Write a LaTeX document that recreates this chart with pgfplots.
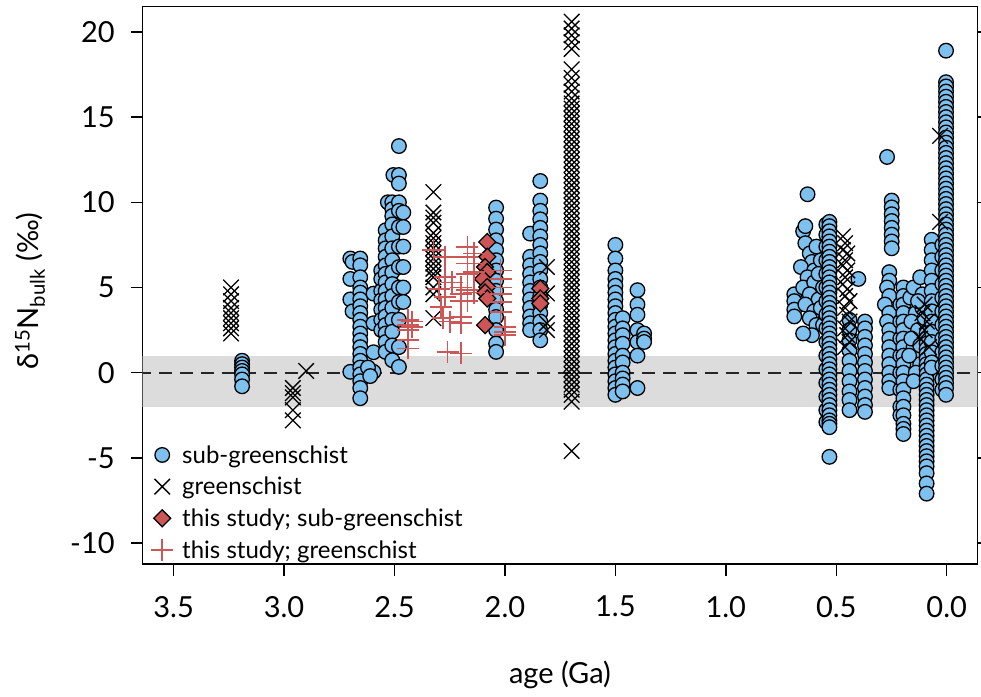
\documentclass[border=0pt]{standalone}
\usepackage{pgfplots}
\pgfplotsset{compat=1.18}
\usepackage{fontspec}
\setmainfont{Lato}
\definecolor{skyb}{RGB}{126,192,238}
\definecolor{dred}{RGB}{205,85,85}
\definecolor{pred}{RGB}{205,86,86}
\definecolor{band}{RGB}{220,220,220}
\begin{document}
\begin{tikzpicture}
\begin{axis}[
  name=ax, at={(0,0)}, anchor=south west,
  scale only axis, width=834.6pt, height=557.3pt,
  xmin=-0.1385, xmax=3.64, ymin=-11.23, ymax=21.48,
  x dir=reverse,
  xtick={0,0.5,1,1.5,2,2.5,3,3.5},
  xticklabels={0.0,0.5,1.0,1.5,2.0,2.5,3.0,3.5},
  ytick={-10,-5,0,5,10,15,20},
  yticklabels={-10,-5,0,5,10,15,20},
  tick align=outside, major tick length=11.5pt,
  xtick pos=bottom, ytick pos=both,
  axis line style={line width=1.6pt},
  every tick/.style={black, line width=1.5pt},
  tick label style={font=\fontsize{29}{35}\selectfont},
  xticklabel style={yshift=-17pt},
  yticklabel style={xshift=-13pt},
  label style={font=\fontsize{29}{35}\selectfont},
  xlabel={age (Ga)},
  ylabel={δ\textsuperscript{15}N\textsubscript{bulk} (‰)},
  xlabel style={at={(axis description cs:0.5,0)}, anchor=center, yshift=-111pt},
  ylabel style={at={(axis description cs:-0.135,0.49)}, anchor=center},
  clip=true,
  legend cell align=left,
  legend style={draw=none, fill=none, at={(0.01,0.004)}, anchor=south west,
    font=\fontsize{24}{28}\selectfont, row sep=8.5pt, inner sep=0pt},
  legend image code/.code={\path[draw=none,fill=none] (0pt,-5pt) rectangle (27pt,5pt); \draw[#1] plot coordinates {(9pt,0pt)};},
]
\addplot[draw=none, fill=band, forget plot] coordinates {(-0.2,-2) (3.7,-2) (3.7,1) (-0.2,1)} -- cycle;
\addplot[black!85, line width=1.8pt, dash pattern=on 13pt off 8pt, forget plot] coordinates {(-0.2,0) (3.7,0)};

% sub-greenschist
\addplot[only marks, mark=*, mark size=7.3pt, mark options={fill=skyb, draw=black, line width=1.3pt}] coordinates {
(3.19,0.7)(3.19,0.5)(3.19,0.3)(3.19,0.1)(3.19,-0.1)(3.19,-0.4)(3.19,-0.8)
(2.70,6.7)(2.70,5.5)(2.70,4.3)(2.70,0.05)(2.69,6.5)(2.69,3.6)
(2.655,6.7)(2.655,6.3)(2.655,5.6)(2.655,5.0)(2.655,4.7)(2.655,4.3)(2.655,3.9)(2.655,3.5)(2.655,3.1)(2.655,2.7)(2.655,2.3)(2.655,1.9)(2.655,1.5)(2.655,1.1)(2.655,0.7)(2.655,0.3)(2.655,-0.1)(2.655,-0.5)(2.655,-0.9)(2.655,-1.5)
(2.595,4.64)(2.595,2.9)(2.595,1.2)(2.595,0.05)(2.62,0.3)(2.61,-0.2)
(2.56,6.0)(2.56,5.5)(2.56,4.8)(2.56,4.25)(2.56,3.7)(2.56,3.1)(2.56,2.5)
(2.54,8.36)(2.54,7.77)(2.54,7.3)(2.54,6.8)(2.54,6.3)(2.54,5.8)(2.54,5.3)(2.54,4.8)(2.54,4.3)(2.54,3.8)(2.54,3.3)(2.54,2.8)(2.54,2.3)(2.54,1.8)(2.54,1.22)
(2.53,10.0)(2.51,10.0)(2.51,9.6)(2.51,9.2)(2.51,8.7)(2.51,8.0)(2.51,7.3)(2.51,6.6)(2.51,5.9)(2.51,5.2)(2.51,4.5)(2.51,3.8)(2.51,3.1)(2.51,2.4)(2.51,1.6)(2.51,0.73)
(2.505,11.6)
(2.48,13.3)(2.48,11.6)(2.48,11.1)(2.48,10.0)(2.48,9.5)(2.48,8.55)(2.48,7.4)(2.48,6.2)(2.48,5.0)(2.48,4.15)(2.48,3.1)(2.48,1.5)(2.48,0.34)
(2.46,9.4)(2.46,8.55)(2.46,7.4)(2.46,6.2)(2.46,5.0)(2.46,4.15)
(2.04,9.69)(2.04,9.04)(2.04,8.4)(2.04,7.77)(2.04,7.2)(2.04,6.6)(2.04,6.0)(2.04,5.4)(2.04,4.8)(2.04,4.2)(2.04,3.7)(2.04,3.27)(2.04,2.5)(2.04,1.71)(2.04,1.22)
(1.886,8.16)(1.886,6.8)(1.886,6.3)(1.886,5.8)(1.886,5.3)(1.886,4.8)(1.886,4.3)(1.886,3.8)(1.886,3.3)(1.886,2.9)(1.886,2.5)
(1.84,11.25)(1.84,10.1)(1.84,9.5)(1.84,9.0)(1.84,8.5)(1.84,8.0)(1.84,7.5)(1.84,7.0)(1.84,6.5)(1.84,6.0)(1.84,5.5)(1.84,5.0)(1.84,4.5)(1.84,4.0)(1.84,3.5)(1.84,3.0)(1.84,2.5)(1.84,1.9)
(1.50,7.5)(1.50,6.7)(1.50,6.0)(1.50,5.5)(1.50,5.1)(1.50,4.7)(1.50,4.3)(1.50,3.9)(1.50,3.5)(1.50,3.1)(1.50,2.7)(1.50,2.3)(1.50,1.9)(1.50,1.5)(1.50,1.1)(1.50,0.7)(1.50,0.3)(1.50,-0.1)(1.50,-0.5)(1.50,-0.9)(1.50,-1.3)
(1.467,3.2)(1.467,2.6)(1.467,2.2)(1.467,1.7)(1.467,1.0)(1.467,0.6)(1.467,0.0)(1.467,-0.34)(1.467,-0.7)(1.467,-1.1)
(1.40,4.84)(1.40,4.0)(1.40,3.4)(1.40,2.5)(1.40,1.8)(1.40,1.0)(1.40,-0.9)
(1.37,2.3)(1.37,2.0)(1.37,1.8)
(0.69,4.6)(0.69,4.2)(0.69,3.7)(0.69,3.3)
(0.63,10.47)(0.65,8.3)(0.64,8.6)(0.64,7.6)(0.62,7.0)(0.61,6.5)(0.66,6.2)(0.60,6.0)(0.63,5.6)(0.65,5.0)(0.60,5.3)(0.62,4.6)(0.58,4.3)(0.64,4.0)(0.60,3.6)(0.62,3.2)(0.59,2.8)(0.61,2.2)(0.57,6.6)(0.58,5.8)(0.56,5.0)(0.57,3.8)(0.56,2.8)(0.65,2.3)(0.59,7.4)
(0.545,8.7)(0.545,8.1)(0.545,7.4)(0.545,6.6)(0.545,5.8)(0.545,5.0)(0.545,4.2)(0.545,3.4)(0.545,2.6)(0.545,1.8)(0.545,1.0)(0.545,0.2)(0.545,-0.6)(0.545,-1.4)(0.545,-2.2)(0.545,-2.9)
(0.531,8.85)(0.531,8.6)(0.531,8.3)(0.531,8.0)(0.531,7.7)(0.531,7.4)(0.531,7.1)(0.531,6.8)(0.531,6.5)(0.531,6.2)(0.531,5.9)(0.531,5.6)(0.531,5.3)(0.531,5.0)(0.531,4.7)(0.531,4.4)(0.531,4.1)(0.531,3.8)(0.531,3.5)(0.531,3.2)(0.531,2.9)(0.531,2.6)(0.531,2.3)(0.531,2.0)(0.531,1.7)(0.531,1.4)(0.531,1.1)(0.531,0.8)(0.531,0.5)(0.531,0.2)(0.531,-0.1)(0.531,-0.4)(0.531,-0.7)(0.531,-1.0)(0.531,-1.3)(0.531,-1.6)(0.531,-1.9)(0.531,-2.2)(0.531,-2.5)(0.531,-2.8)(0.531,-3.0)(0.531,-3.2)(0.531,-4.94)
(0.40,5.5)
(0.44,3.1)(0.44,2.5)(0.44,1.9)(0.44,1.3)(0.44,0.7)(0.44,0.1)(0.44,-0.5)(0.44,-1.1)(0.44,-1.6)(0.44,-2.2)
(0.37,3.0)(0.37,2.6)(0.37,2.1)(0.37,1.6)(0.37,1.1)(0.37,0.6)(0.37,0.1)(0.37,-0.4)(0.37,-0.9)(0.37,-1.4)(0.37,-1.9)(0.37,-2.3)
(0.27,12.66)
(0.249,10.1)(0.249,9.7)(0.249,9.3)(0.249,8.9)(0.249,8.5)(0.249,8.1)(0.249,7.7)(0.249,7.3)
(0.26,5.9)(0.26,5.4)(0.27,5.0)(0.26,4.5)(0.28,4.0)(0.26,3.5)(0.27,3.0)(0.26,2.5)(0.26,2.0)(0.26,1.5)(0.26,1.0)(0.26,0.5)(0.26,0.0)(0.26,-0.5)(0.26,-0.9)
(0.21,4.0)(0.21,3.0)(0.21,2.0)(0.21,1.0)(0.21,0.0)(0.21,-1.0)(0.21,-2.0)(0.21,-2.5)
(0.196,5.0)(0.196,4.5)(0.196,4.0)(0.196,3.5)(0.196,3.0)(0.196,2.5)(0.196,2.0)(0.196,1.5)(0.196,1.0)(0.196,0.5)(0.196,0.0)(0.196,-0.5)(0.196,-1.0)(0.196,-1.5)(0.196,-2.0)(0.196,-2.5)(0.196,-3.0)(0.196,-3.3)(0.196,-3.6)
(0.165,4.4)(0.15,5.0)(0.14,3.5)(0.16,3.0)(0.13,2.5)(0.12,5.6)(0.11,3.8)(0.15,1.5)(0.13,1.0)(0.16,2.0)(0.12,0.5)(0.14,0.0)(0.17,1.0)(0.11,4.6)(0.13,4.2)(0.10,3.2)(0.12,1.6)(0.15,-0.5)
(0.091,2.3)(0.091,2.0)(0.091,1.7)(0.091,1.4)(0.091,1.1)(0.091,0.8)(0.091,0.5)(0.091,0.2)(0.091,-0.1)(0.091,-0.4)(0.091,-0.7)(0.091,-1.0)(0.091,-1.3)(0.091,-1.6)(0.091,-1.9)(0.091,-2.2)(0.091,-2.5)(0.091,-2.8)(0.091,-3.1)(0.091,-3.4)(0.091,-3.7)(0.091,-4.0)(0.091,-4.3)(0.091,-4.6)(0.091,-4.9)(0.091,-5.2)(0.091,-5.5)(0.091,-5.9)(0.091,-6.5)(0.091,-7.1)
(0.068,7.8)(0.068,7.2)(0.068,6.6)(0.068,6.0)(0.068,5.4)(0.068,4.8)(0.068,4.2)(0.068,3.6)(0.068,3.0)(0.068,2.4)(0.068,1.8)(0.068,1.2)(0.068,0.6)(0.068,0.3)
(0.02,7.5)(0.02,6.8)(0.02,6.0)(0.02,5.2)(0.02,4.4)(0.02,3.6)(0.02,2.8)(0.02,2.0)(0.02,1.2)(0.02,0.4)(0.02,-0.4)(0.02,-1.0)
(0.003,18.9)(0.003,17.05)(0.003,16.8)(0.003,16.5)(0.003,16.2)(0.003,15.9)(0.003,15.6)(0.003,15.3)(0.003,15.0)(0.003,14.7)(0.003,14.4)(0.003,14.1)(0.003,13.8)(0.003,13.5)(0.003,13.2)(0.003,12.9)(0.003,12.6)(0.003,12.3)(0.003,12.0)(0.003,11.7)(0.003,11.4)(0.003,11.1)(0.003,10.8)(0.003,10.5)(0.003,10.2)(0.003,9.9)(0.003,9.6)(0.003,9.3)(0.003,9.0)(0.003,8.7)(0.003,8.4)(0.003,8.1)(0.003,7.8)(0.003,7.5)(0.003,7.2)(0.003,6.9)(0.003,6.6)(0.003,6.3)(0.003,6.0)(0.003,5.7)(0.003,5.4)(0.003,5.1)(0.003,4.8)(0.003,4.5)(0.003,4.2)(0.003,3.9)(0.003,3.6)(0.003,3.3)(0.003,3.0)(0.003,2.7)(0.003,2.4)(0.003,2.1)(0.003,1.8)(0.003,1.5)(0.003,1.2)(0.003,0.9)(0.003,0.6)(0.003,0.3)(0.003,0.0)(0.003,-0.3)(0.003,-0.6)(0.003,-0.9)(0.003,-1.3)
};
\addlegendentry{sub-greenschist}

% greenschist
\addplot[only marks, mark=x, mark size=11pt, mark options={draw=black, line width=1.3pt}] coordinates {
(3.24,5.0)(3.24,4.6)(3.24,4.2)(3.24,3.8)(3.24,3.5)(3.24,3.2)(3.24,2.9)(3.24,2.6)(3.24,2.3)
(2.96,-0.9)(2.96,-1.2)(2.96,-1.45)(2.96,-2.2)(2.96,-2.8)(2.90,0.1)
(2.324,10.6)(2.324,9.4)(2.324,9.1)(2.324,8.8)(2.324,8.2)(2.324,7.9)(2.324,7.6)(2.324,7.3)(2.324,7.0)(2.324,6.7)(2.324,6.4)(2.324,6.1)(2.324,5.8)(2.324,5.6)(2.324,5.0)(2.324,4.6)(2.324,3.2)
(1.81,6.2)(1.81,4.65)(1.81,2.9)(1.81,2.5)
(1.698,20.6)(1.698,20.2)(1.698,19.8)(1.698,19.4)(1.698,19.0)(1.698,17.8)(1.698,17.3)(1.698,16.9)(1.698,16.5)(1.698,16.1)(1.698,15.8)(1.698,15.5)(1.698,15.2)(1.698,14.9)(1.698,14.6)(1.698,14.3)(1.698,14.0)(1.698,13.7)(1.698,13.4)(1.698,13.1)(1.698,12.8)(1.698,12.5)(1.698,12.2)(1.698,11.9)(1.698,11.6)(1.698,11.3)(1.698,11.0)(1.698,10.7)(1.698,10.4)(1.698,10.1)(1.698,9.8)(1.698,9.5)(1.698,9.2)(1.698,8.9)(1.698,8.6)(1.698,8.3)(1.698,8.0)(1.698,7.7)(1.698,7.4)(1.698,7.1)(1.698,6.8)(1.698,6.5)(1.698,6.2)(1.698,5.9)(1.698,5.6)(1.698,5.3)(1.698,5.0)(1.698,4.7)(1.698,4.4)(1.698,4.1)(1.698,3.8)(1.698,3.5)(1.698,3.2)(1.698,2.9)(1.698,2.6)(1.698,2.3)(1.698,2.0)(1.698,1.7)(1.698,1.4)(1.698,1.1)(1.698,0.8)(1.698,0.5)(1.698,0.2)(1.698,-0.1)(1.698,-0.4)(1.698,-0.7)(1.698,-1.0)(1.698,-1.3)(1.698,-1.7)(1.698,-4.6)
(0.47,8.0)(0.46,7.6)(0.47,7.2)(0.45,7.0)(0.46,6.6)(0.47,6.3)(0.45,6.0)(0.46,5.6)(0.47,5.2)(0.45,4.9)(0.46,4.5)(0.44,4.2)(0.46,3.8)(0.45,3.4)(0.44,3.0)(0.46,2.6)(0.45,2.2)(0.44,1.8)(0.46,1.5)
(0.10,4.0)(0.11,3.5)(0.09,3.0)(0.10,2.5)(0.12,2.0)(0.08,1.5)
(0.03,13.9)(0.03,8.85)
};
\addlegendentry{greenschist}

% this study; sub-greenschist
\addplot[only marks, mark=diamond*, mark size=8.5pt, mark options={fill=dred, draw=black, line width=1.3pt, xscale=1.33}] coordinates {
(2.08,7.67)(2.08,6.8)(2.09,6.2)(2.08,5.9)(2.10,5.5)(2.08,5.03)(2.09,4.7)(2.08,4.35)(2.09,2.79)
(1.84,4.94)(1.84,4.35)(1.84,4.06)
};
\addlegendentry{this study; sub-greenschist}

% this study; greenschist
\addplot[only marks, mark=+, mark size=11pt, mark options={draw=pred, line width=1.7pt}] coordinates {
(2.44,3.08)(2.44,2.79)(2.44,2.5)(2.44,1.9)(2.44,1.42)(2.42,3.0)(2.42,2.7)
(2.324,7.2)
(2.27,6.8)(2.27,5.6)(2.27,4.45)(2.28,3.2)(2.29,3.86)(2.30,4.9)
(2.26,1.22)(2.24,5.3)(2.25,3.0)
(2.20,5.0)(2.20,4.6)(2.20,4.2)(2.20,3.27)(2.20,2.9)(2.20,1.13)
(2.17,7.38)(2.17,6.8)(2.17,6.4)(2.17,5.8)(2.17,4.84)(2.17,4.2)
(2.14,7.0)(2.14,6.4)(2.14,5.9)(2.14,4.7)
(2.02,6.0)(2.02,5.5)(2.02,5.0)(2.02,4.6)(2.02,4.15)(2.02,3.57)
(2.00,2.69)(2.00,2.4)(2.00,2.2)
};
\addlegendentry{this study; greenschist}
\end{axis}
\pgfresetboundingbox
\path (-142.7pt,-132pt) rectangle (838.3pt,564pt);
\end{tikzpicture}
\end{document}
